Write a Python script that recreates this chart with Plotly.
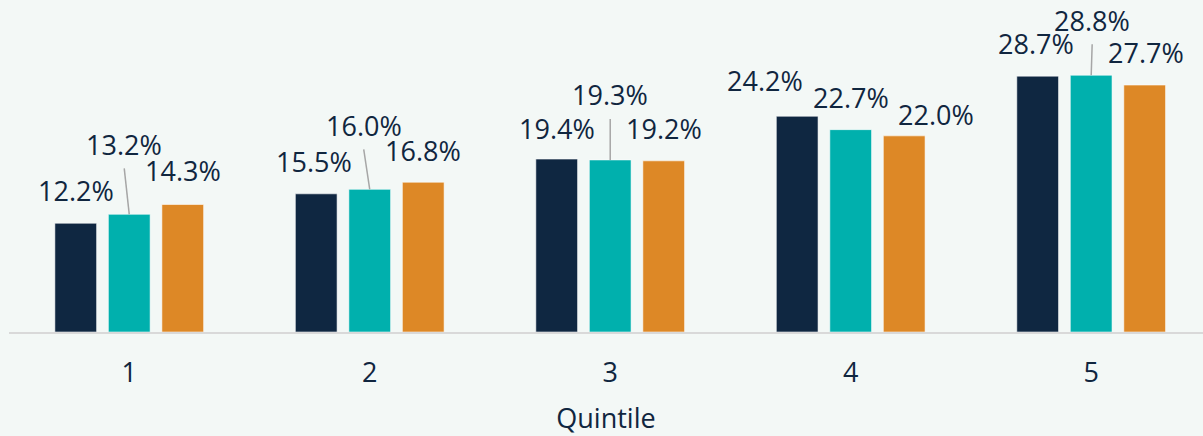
import plotly.graph_objects as go

# ---- data ----
categories = ["1", "2", "3", "4", "5"]
series_names = ["Series A", "Series B", "Series C"]
series_a = [12.2, 15.5, 19.4, 24.2, 28.7]
series_b = [13.2, 16.0, 19.3, 22.7, 28.8]
series_c = [14.3, 16.8, 19.2, 22.0, 27.7]
x_title = "Quintile"

# ---- style ----
colors = ["#0f2741", "#00b0ad", "#dd8826"]
bg = "#f3f8f6"
text_color = "#10263f"
font_family = "Open Sans, Noto Sans, sans-serif"
font_size = 27
bargap = 0.3325
bargroupgap = 0.22
# label offsets (pixels) of label centre relative to top-centre of each bar
label_offsets = [
    [(0, -31), (-2, -30), (0, -29), (-32, -34), (-2, -31)],
    [(-5, -68), (-6, -62), (0, -63), (0, -30), (1, -53)],
    [(0, -32), (0, -30), (0, -30), (32, -19), (1, -31)],
]
leader = [True, True, True, False, True]  # leader lines for middle series

all_series = [series_a, series_b, series_c]
xpos = list(range(len(categories)))

fig = go.Figure()
for name, vals, col in zip(series_names, all_series, colors):
    fig.add_trace(go.Bar(
        x=xpos, y=vals, name=name,
        marker=dict(color=col, line=dict(color="rgba(255,255,255,0.55)", width=1)),
        showlegend=False, hoverinfo="skip",
    ))

slot = (1 - bargap) / len(all_series)
annotations = []
shapes = []
for k, vals in enumerate(all_series):
    for i, v in enumerate(vals):
        dx, dy = label_offsets[k][i]
        xc = i + (k - (len(all_series) - 1) / 2) * slot
        annotations.append(dict(
            x=xc, y=v, xref="x", yref="y", text=f"{v:.1f}%",
            showarrow=False, xanchor="center", yanchor="middle",
            xshift=dx, yshift=-dy + 2,
            font=dict(family=font_family, size=font_size, color=text_color),
        ))
        if k == 1 and leader[i]:
            shapes.append(dict(
                type="line", xref="x", yref="y",
                xsizemode="pixel", ysizemode="pixel",
                xanchor=xc, yanchor=v,
                x0=0, y0=0, x1=dx, y1=-(dy + 22),
                line=dict(color="#a6a6a6", width=1.5),
            ))

fig.update_layout(
    width=1203, height=436,
    paper_bgcolor=bg, plot_bgcolor=bg,
    margin=dict(l=9, r=0, t=0, b=104),
    barmode="group", bargap=bargap, bargroupgap=bargroupgap,
    annotations=annotations, shapes=shapes,
    font=dict(family=font_family, size=font_size, color=text_color),
)
fig.update_xaxes(
    range=[-0.5, 4.465], tickmode="array", tickvals=xpos, ticktext=categories,
    showgrid=False, zeroline=False, showline=True, linecolor="#d9d9d9", linewidth=2,
    ticks="", ticklabelstandoff=16,
    tickfont=dict(family=font_family, size=font_size, color=text_color),
    title=dict(text=x_title, standoff=40,
               font=dict(family=font_family, size=font_size, color=text_color)),
    automargin=False,
)
fig.update_yaxes(range=[0, 37.24], visible=False, showgrid=False, zeroline=False)

fig.write_html(
    "out.html",
    config={"displayModeBar": False},
    post_script="document.body.style.margin='0';document.body.style.background='%s';" % bg,
)
